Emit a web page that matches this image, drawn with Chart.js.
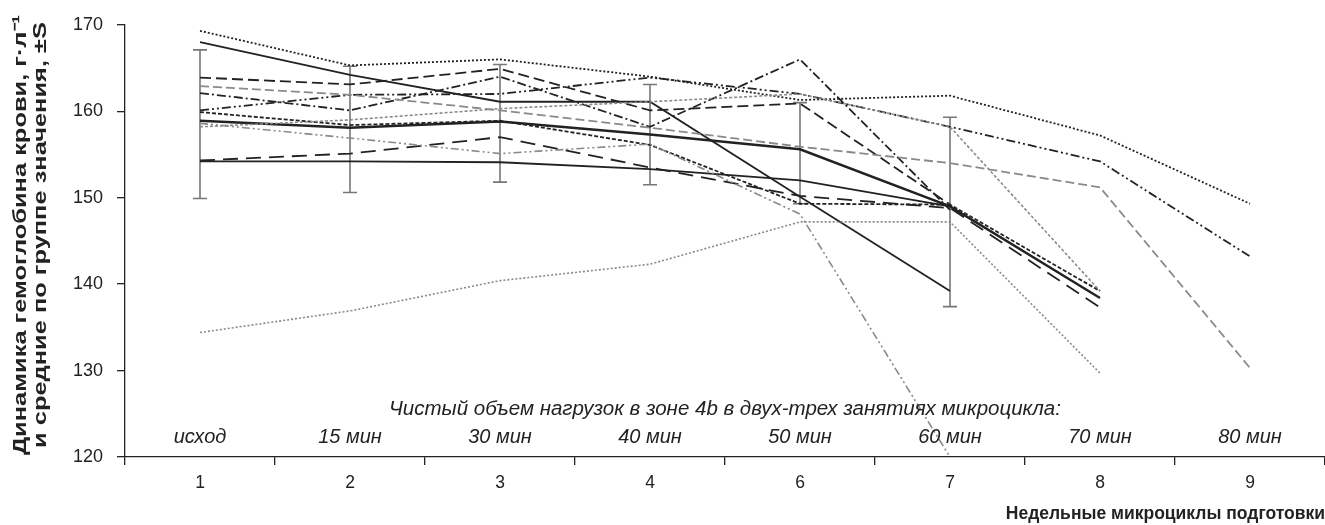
<!DOCTYPE html>
<html>
<head>
<meta charset="utf-8">
<script src="https://cdn.jsdelivr.net/npm/chart.js@4.4.1/dist/chart.umd.min.js"></script>
<style>
  html, body { margin: 0; padding: 0; background: #fff; }
  #wrap { width: 1325px; height: 525px; }
</style>
</head>
<body>
<div id="wrap"><canvas id="hbChart" width="1325" height="525"></canvas></div>
<script>
// weekly microcycles (x categories)
const weeks = ['1', '2', '3', '4', '6', '7', '8', '9'];
const loadLabels = ['исход', '15 мин', '30 мин', '40 мин', '50 мин', '60 мин', '70 мин', '80 мин'];
const caption = 'Чистый объем нагрузок в зоне 4b в двух-трех занятиях микроцикла:';
const yTitleLines = ['Динамика гемоглобина крови, г·л⁻¹', 'и средние по группе значения, ±S'];
const yTicks = [120, 130, 140, 150, 160, 170];

// individual athletes, г·л-1
const s1 = [169.3, 165.3, 166.0, 164.0, 161.3, 161.8, 157.2, 149.3];
const s2 = [168.0, 164.2, 161.1, 161.1, 150.1, 139.2, null, null];
const s3 = [163.9, 163.1, 164.9, 160.1, 160.9, 149.2, null, null];
const s4 = [162.9, 161.9, 160.1, 158.1, 155.9, 154.0, 151.2, 130.3];
const s5 = [162.1, 160.1, 164.0, 158.2, 166.0, 148.6, null, null];
const s6 = [160.1, 161.9, 162.0, 163.9, 162.0, 158.2, 154.2, 143.2];
const s7 = [159.9, 158.4, 158.9, 156.1, 149.3, 149.2, 139.2, null];
const s9 = [154.2, 154.2, 154.1, 153.3, 152.0, 149.0, null, null];
const s10 = [154.3, 155.1, 157.0, 153.5, 150.2, 148.8, 137.3, null];
const s11 = [158.2, 159.0, 160.3, 161.1, 162.0, 158.2, 139.2, null];
const s12 = [158.6, 156.9, 155.1, 156.2, 148.1, 120.0, null, null];
const s13 = [134.4, 136.9, 140.4, 142.3, 147.2, 147.2, 129.7, null];

// group mean and ±S
const groupMean = [158.9, 158.1, 158.8, 157.3, 155.6, 149.0, 138.4, null];
const sdHigh = [167.1, 165.2, 165.4, 163.1, 161.0, 159.3, null, null];
const sdLow = [149.9, 150.6, 151.8, 151.5, 149.3, 137.4, null, null];

const DARK = '#222';
const GRAY = '#8a8a8a';
const FONT = '"Liberation Sans", Arial, sans-serif';

function line(data, color, dash, width) {
  return {
    data: data,
    borderColor: color,
    borderDash: dash,
    borderWidth: width || 1.8,
    pointRadius: 0,
    tension: 0,
    fill: false,
    spanGaps: false
  };
}

const datasets = [
  line(s13, GRAY, [2, 2], 1.6),
  line(s12, GRAY, [8, 3, 2, 3, 2, 3], 1.6),
  line(s11, GRAY, [3, 2], 1.6),
  line(s4, GRAY, [9, 4]),
  line(s1, DARK, [2, 2]),
  line(s2, DARK, []),
  line(s3, DARK, [11, 5]),
  line(s5, DARK, [9, 3, 2, 3]),
  line(s6, DARK, [9, 3, 2, 3, 2, 3]),
  line(s7, DARK, [4, 2]),
  line(s9, DARK, []),
  line(s10, DARK, [15, 8]),
  line(groupMean, DARK, [], 2.5)
];

// ±S whiskers drawn behind the lines
const errorBars = {
  id: 'errorBars',
  beforeDatasetsDraw(chart) {
    const { ctx, scales: { x, y } } = chart;
    ctx.save();
    ctx.strokeStyle = '#777';
    ctx.lineWidth = 1.6;
    sdHigh.forEach((hi, i) => {
      if (hi == null) return;
      const px = x.getPixelForValue(i);
      const top = y.getPixelForValue(hi);
      const bot = y.getPixelForValue(sdLow[i]);
      ctx.beginPath();
      ctx.moveTo(px, top); ctx.lineTo(px, bot);
      ctx.moveTo(px - 7, top); ctx.lineTo(px + 7, top);
      ctx.moveTo(px - 7, bot); ctx.lineTo(px + 7, bot);
      ctx.stroke();
    });
    ctx.restore();
  }
};

// load volume captions inside the plot + the y axis title
const loadText = {
  id: 'loadText',
  afterDraw(chart) {
    const { ctx, chartArea, scales: { x, y } } = chart;
    ctx.save();
    ctx.fillStyle = DARK;
    ctx.font = 'italic 20.5px ' + FONT;
    ctx.textAlign = 'center';
    ctx.textBaseline = 'middle';
    ctx.fillText(caption, (chartArea.left + chartArea.right) / 2, y.getPixelForValue(125.5));
    ctx.font = 'italic 20px ' + FONT;
    loadLabels.forEach((t, i) => {
      ctx.fillText(t, x.getPixelForValue(i), y.getPixelForValue(122.3));
    });
    ctx.restore();

    // y title is wide in the original, so stretch it along the text
    ctx.save();
    ctx.fillStyle = DARK;
    ctx.font = 'bold 19px ' + FONT;
    ctx.textAlign = 'center';
    ctx.textBaseline = 'middle';
    const sx = 440 / ctx.measureText(yTitleLines[0]).width;
    ctx.translate(0, 235);
    ctx.rotate(-Math.PI / 2);
    ctx.scale(sx, 1);
    ctx.fillText(yTitleLines[0], 0, 21);
    ctx.fillText(yTitleLines[1], 0, 41);
    ctx.restore();
  }
};

new Chart(document.getElementById('hbChart'), {
  type: 'line',
  data: { labels: weeks, datasets: datasets },
  options: {
    responsive: false,
    animation: false,
    layout: { padding: { top: 23, right: 0, left: 0, bottom: 0 } },
    plugins: {
      legend: { display: false },
      tooltip: { enabled: false }
    },
    scales: {
      x: {
        offset: true,
        grid: { offset: true, drawOnChartArea: false, tickLength: 8, color: DARK, lineWidth: 1.3 },
        border: { display: true, color: DARK, width: 1.3 },
        ticks: { color: DARK, font: { family: FONT, size: 17.5 }, padding: 8, maxRotation: 0 },
        title: {
          display: true,
          text: 'Недельные микроциклы подготовки',
          align: 'end',
          color: DARK,
          font: { family: FONT, size: 17.5, weight: 'bold' },
          padding: { top: 4, bottom: 0 }
        },
        afterFit(scale) { scale.height = 68; }
      },
      y: {
        min: 120,
        max: 170,
        afterBuildTicks(scale) { scale.ticks = yTicks.map(v => ({ value: v })); },
        grid: { drawOnChartArea: false, tickLength: 8, color: DARK, lineWidth: 1.3 },
        border: { display: true, color: DARK, width: 1.3 },
        ticks: { color: DARK, font: { family: FONT, size: 18 }, padding: 14 },
        afterFit(scale) { scale.width = 125; }
      }
    }
  },
  plugins: [errorBars, loadText]
});
</script>
</body>
</html>
